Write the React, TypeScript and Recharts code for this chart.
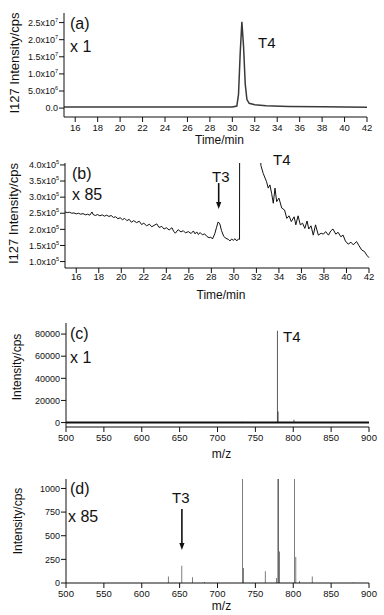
import React from "react";
import {
  Bar,
  ComposedChart,
  Line,
  LineChart,
  ReferenceDot,
  ReferenceLine,
  XAxis,
  YAxis,
} from "recharts";

// (a) I127 chromatogram, x1
const timeA = [15, 20, 25, 28, 30, 30.4, 30.55, 30.7, 30.85, 31.0, 31.15, 31.3, 31.5, 32, 33, 35, 38, 42];
const intensityA = [
  3e5, 3e5, 3e5, 3e5, 3.5e5, 6e5, 4e6, 1.6e7, 2.52e7, 1.8e7, 7e6, 2.5e6, 1.4e6, 1.0e6, 7e5, 5e5, 4e5, 2.5e5,
];

// (b) I127 chromatogram, x85 (intensity in 1e5 cps)
const timeB = [
  15.0, 15.2, 15.4, 15.6, 15.8, 16.0, 16.2, 16.4, 16.6, 16.8, 17.0, 17.2, 17.4, 17.5, 17.7, 17.9, 18.1, 18.3,
  18.5, 18.7, 18.9, 19.1, 19.3, 19.5, 19.7, 19.9, 20.1, 20.3, 20.5, 20.7, 20.9, 21.1, 21.35, 21.6, 21.8, 22.0,
  22.25, 22.5, 22.7, 22.9, 23.15, 23.35, 23.6, 23.8, 24.0, 24.25, 24.5, 24.65, 24.8, 25.05, 25.3, 25.5, 25.7,
  25.95, 26.2, 26.4, 26.55, 26.7, 26.85, 27.0, 27.2, 27.4, 27.6, 27.8, 27.95, 28.1, 28.3, 28.45, 28.6, 28.75,
  28.9, 29.1, 29.3, 29.5, 29.65, 29.8, 29.95, 30.1, 30.25, 30.4, 30.5, 30.6, 30.8, 31.5, 32.2, 32.4, 32.6,
  32.9, 33.05, 33.2, 33.35, 33.5, 33.65, 33.8, 34.0, 34.25, 34.5, 34.7, 34.9, 35.1, 35.35, 35.5, 35.7, 35.9,
  36.1, 36.3, 36.5, 36.65, 36.85, 37.05, 37.25, 37.5, 37.75, 37.95, 38.15, 38.4, 38.6, 38.8, 39.05, 39.25,
  39.5, 39.7, 39.9, 40.15, 40.4, 40.6, 40.9, 41.1, 41.35, 41.6, 41.8, 42.0,
];
const levelB = [
  2.54, 2.52, 2.53, 2.5, 2.51, 2.48, 2.5, 2.47, 2.49, 2.45, 2.47, 2.44, 2.54, 2.46, 2.43, 2.46, 2.42, 2.45,
  2.41, 2.44, 2.4, 2.43, 2.37, 2.39, 2.33, 2.36, 2.3, 2.34, 2.27, 2.31, 2.22, 2.27, 2.21, 2.25, 2.15, 2.19,
  2.11, 2.16, 2.08, 2.12, 2.17, 2.06, 2.09, 2.01, 2.05, 1.98, 2.05, 1.94, 1.88, 1.99, 1.92, 1.96, 1.89,
  1.93, 1.87, 1.95, 1.86, 1.92, 1.84, 1.9, 1.83, 1.86, 1.78, 1.74, 1.76, 1.7, 1.86, 2.05, 2.23, 2.17,
  1.96, 1.78, 1.72, 1.69, 1.64, 1.7, 1.66, 1.71, 1.64, 1.7, 1.69, 30, 60, 40, 8, 3.98, 3.74,
  3.48, 3.28, 3.38, 3.12, 2.81, 3.28, 2.86, 2.97, 2.66, 2.6, 2.34, 2.42, 2.24, 2.39, 2.14, 2.42, 2.14,
  2.19, 2.03, 2.26, 2.01, 2.11, 1.82, 2.14, 1.82, 1.88, 1.85, 1.93, 1.82, 1.95, 2.01, 1.85, 1.91,
  1.77, 1.82, 1.64, 1.54, 1.6, 1.52, 1.62, 1.5, 1.36, 1.31, 1.2, 1.12,
];

// (c) mass spectrum, x1
const mzC = [733, 779, 780, 801];
const intensityC = [700, 83000, 10000, 2500];

// (d) mass spectrum, x85
const mzD = [635, 653, 667, 683, 733, 734.5, 763, 778, 779.8, 780.6, 782, 802, 803.5, 808, 825, 879];
const intensityD = [70, 182, 60, 10, 3000, 158, 123, 53, 5000, 5000, 333, 3000, 274, 20, 70, 6];

const timeTicks = [16, 18, 20, 22, 24, 26, 28, 30, 32, 34, 36, 38, 40, 42];
const mzTicks = [500, 550, 600, 650, 700, 750, 800, 850, 900];
const ticksA = [0, 5e6, 1e7, 1.5e7, 2e7, 2.5e7];
const ticksB = [1e5, 1.5e5, 2e5, 2.5e5, 3e5, 3.5e5, 4e5];
const ticksC = [0, 20000, 40000, 60000, 80000];
const ticksD = [0, 250, 500, 750, 1000];

const dataA = timeA.map((t, i) => ({ t, v: intensityA[i] }));
const dataB = timeB.map((t, i) => ({ t, v: levelB[i] * 1e5 }));
const dataC = mzC.map((mz, i) => ({ mz, v: intensityC[i] }));
const dataD = mzD.map((mz, i) => ({ mz, v: intensityD[i] }));

const INK = "#111";
const FONT = "'Liberation Sans', Arial, sans-serif";

const SciTick = ({ x, y, payload }: any) => {
  const v = payload.value;
  if (v === 0) {
    return (
      <text x={x} y={y} dy={3.2} textAnchor="end" fontSize={9} fill={INK}>
        0.0
      </text>
    );
  }
  const exp = Math.floor(Math.log10(v) + 1e-9);
  const mant = (v / Math.pow(10, exp)).toFixed(1);
  return (
    <text x={x} y={y} dy={3.2} textAnchor="end" fontSize={9} fill={INK}>
      {mant}x10
      <tspan dy={-4} fontSize={5.5}>
        {exp}
      </tspan>
    </text>
  );
};

const XTitle = ({ viewBox, value, dy }: any) => (
  <text
    x={viewBox.x + viewBox.width / 2 + 4}
    y={viewBox.y + dy}
    textAnchor="middle"
    fontSize={12}
    fill={INK}
  >
    {value}
  </text>
);

const YTitle = ({ viewBox, value, cx, shift, size }: any) => {
  const x = viewBox.x + cx;
  const y = viewBox.y + viewBox.height / 2 + shift;
  return (
    <text
      x={x}
      y={y}
      transform={`rotate(-90, ${x}, ${y})`}
      textAnchor="middle"
      dominantBaseline="central"
      fontSize={size}
      fill={INK}
    >
      {value}
    </text>
  );
};

// text placed with a pixel offset from a data anchor
const note = (text: string, dx: number, dy: number, size = 16) => (p: any) =>
  (
    <text x={p.cx + dx} y={p.cy + dy} fontSize={size} fill={INK}>
      {text}
    </text>
  );

const arrow = (len: number) => (p: any) =>
  (
    <g>
      <line x1={p.cx} y1={p.cy - len} x2={p.cx} y2={p.cy - 5} stroke={INK} strokeWidth={1.6} />
      <path d={`M${p.cx - 2.6},${p.cy - 7} L${p.cx + 2.6},${p.cy - 7} L${p.cx},${p.cy} Z`} fill={INK} />
    </g>
  );

const axisProps = {
  stroke: INK,
  tickSize: 5,
  interval: 0 as const,
  tick: { fontSize: 9.5, fill: INK },
};

export default function App() {
  return (
    <div style={{ position: "absolute", left: 0, top: 0, width: 384, height: 615, background: "#fff", fontFamily: FONT }}>
      <div style={{ position: "absolute", left: 0, top: 0 }}>
        <LineChart width={384} height={150} data={dataA} margin={{ top: 13, right: 17, bottom: 3, left: 0 }}>
          <XAxis
            {...axisProps}
            dataKey="t"
            type="number"
            domain={[15, 42]}
            ticks={timeTicks}
            height={30}
            tickMargin={2}
            label={<XTitle value="Time/min" dy={26.5} />}
          />
          <YAxis
            {...axisProps}
            type="number"
            domain={[-2.6e6, 2.78e7]}
            ticks={ticksA}
            width={64}
            tickMargin={1}
            tick={<SciTick />}
            label={<YTitle value="I127 Intensity/cps" cx={14} shift={-2} size={13} />}
          />
          <Line dataKey="v" stroke="#3a3a3a" strokeWidth={1.5} dot={false} isAnimationActive={false} />
          <ReferenceDot x={15} y={2.78e7} r={0} shape={note("(a)", 6, 16)} />
          <ReferenceDot x={15} y={2.78e7} r={0} shape={note("x 1", 6, 39)} />
          <ReferenceDot x={15} y={2.78e7} r={0} shape={note("T4", 194, 35, 15)} />
        </LineChart>
      </div>

      <div style={{ position: "absolute", left: 0, top: 150 }}>
        <LineChart width={384} height={156} data={dataB} margin={{ top: 13, right: 15, bottom: 6, left: 0 }}>
          <XAxis
            {...axisProps}
            dataKey="t"
            type="number"
            domain={[15, 42]}
            ticks={timeTicks}
            height={32}
            tickMargin={0}
            label={<XTitle value="Time/min" dy={31} />}
          />
          <YAxis
            {...axisProps}
            type="number"
            domain={[0.8e5, 4.06e5]}
            allowDataOverflow
            ticks={ticksB}
            width={65}
            tickMargin={1}
            tick={<SciTick />}
            label={<YTitle value="I127 Intensity/cps" cx={13} shift={-2} size={13} />}
          />
          <Line dataKey="v" stroke={INK} strokeWidth={1} dot={false} isAnimationActive={false} />
          <ReferenceDot x={15} y={4.06e5} r={0} shape={note("(b)", 7, 16)} />
          <ReferenceDot x={15} y={4.06e5} r={0} shape={note("x 85", 7, 37)} />
          <ReferenceDot x={15} y={4.06e5} r={0} shape={note("T3", 147, 19, 15)} />
          <ReferenceDot x={15} y={4.06e5} r={0} shape={note("T4", 208, 2, 15)} />
          <ReferenceDot x={28.65} y={2.63e5} r={0} shape={arrow(26)} />
        </LineChart>
      </div>

      <div style={{ position: "absolute", left: 0, top: 310 }}>
        <ComposedChart width={384} height={150} data={dataC} margin={{ top: 13, right: 15, bottom: 1, left: 0 }}>
          <XAxis
            {...axisProps}
            dataKey="mz"
            type="number"
            domain={[500, 900]}
            ticks={mzTicks}
            height={32}
            tickMargin={2}
            label={<XTitle value="m/z" dy={31} />}
          />
          <YAxis
            {...axisProps}
            type="number"
            domain={[-4000, 90000]}
            ticks={ticksC}
            width={66}
            tickMargin={1}
            tick={{ fontSize: 9, fill: INK }}
            label={<YTitle value="Intensity/cps" cx={17} shift={-8} size={12} />}
          />
          <ReferenceLine y={0} stroke={INK} strokeWidth={2} />
          <Bar dataKey="v" fill={INK} barSize={1.2} isAnimationActive={false} />
          <ReferenceDot x={500} y={90000} r={0} shape={note("(c)", 4, 16)} />
          <ReferenceDot x={500} y={90000} r={0} shape={note("x 1", 4, 40)} />
          <ReferenceDot x={500} y={90000} r={0} shape={note("T4", 217, 19, 15)} />
        </ComposedChart>
      </div>

      <div style={{ position: "absolute", left: 0, top: 460 }}>
        <ComposedChart width={384} height={155} data={dataD} margin={{ top: 19, right: 15, bottom: 2, left: 0 }}>
          <XAxis
            {...axisProps}
            dataKey="mz"
            type="number"
            domain={[500, 900]}
            ticks={mzTicks}
            height={30}
            tickMargin={2}
            label={<XTitle value="m/z" dy={27} />}
          />
          <YAxis
            {...axisProps}
            type="number"
            domain={[0, 1100]}
            allowDataOverflow
            ticks={ticksD}
            width={66}
            tickMargin={1}
            tick={{ fontSize: 9, fill: INK }}
            label={<YTitle value="Intensity/cps" cx={18} shift={-10} size={12} />}
          />
          <Bar dataKey="v" fill={INK} barSize={1.2} isAnimationActive={false} />
          <ReferenceDot x={500} y={1100} r={0} shape={note("(d)", 4, 15)} />
          <ReferenceDot x={500} y={1100} r={0} shape={note("x 85", 2, 43)} />
          <ReferenceDot x={500} y={1100} r={0} shape={note("T3", 106, 24, 15)} />
          <ReferenceDot x={653} y={350} r={0} shape={arrow(41)} />
        </ComposedChart>
      </div>
    </div>
  );
}
